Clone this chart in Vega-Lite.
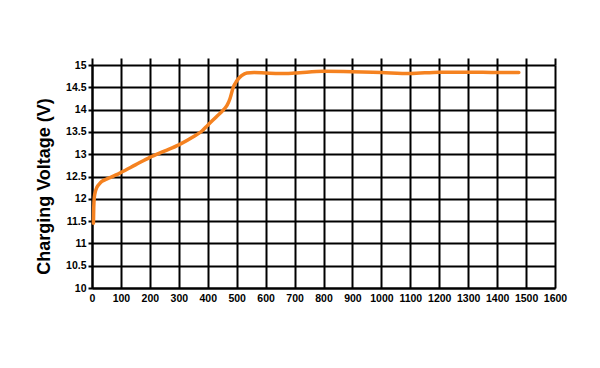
{
  "$schema": "https://vega.github.io/schema/vega-lite/v6.json",
  "autosize": "none",
  "width": 463,
  "height": 223,
  "padding": {"left": 92, "top": 65, "right": 45, "bottom": 80},
  "background": "white",
  "config": {
    "view": {"stroke": null},
    "font": "Liberation Sans"
  },
  "data": {
    "values": [
      {"t": 5, "v": 11.45}, {"t": 6, "v": 11.8}, {"t": 8, "v": 12.03}, {"t": 12, "v": 12.17},
      {"t": 17, "v": 12.26}, {"t": 25, "v": 12.33}, {"t": 34, "v": 12.39}, {"t": 50, "v": 12.44},
      {"t": 68, "v": 12.49}, {"t": 100, "v": 12.59}, {"t": 150, "v": 12.76}, {"t": 200, "v": 12.93},
      {"t": 250, "v": 13.07}, {"t": 300, "v": 13.21}, {"t": 350, "v": 13.39}, {"t": 380, "v": 13.52},
      {"t": 400, "v": 13.65}, {"t": 430, "v": 13.84}, {"t": 455, "v": 14.0}, {"t": 467, "v": 14.1},
      {"t": 477, "v": 14.25}, {"t": 488, "v": 14.5}, {"t": 500, "v": 14.64}, {"t": 517, "v": 14.76},
      {"t": 535, "v": 14.82}, {"t": 560, "v": 14.83}, {"t": 600, "v": 14.82}, {"t": 650, "v": 14.81},
      {"t": 700, "v": 14.82}, {"t": 800, "v": 14.86}, {"t": 900, "v": 14.85}, {"t": 1000, "v": 14.83},
      {"t": 1100, "v": 14.81}, {"t": 1200, "v": 14.84}, {"t": 1300, "v": 14.84}, {"t": 1400, "v": 14.83},
      {"t": 1475, "v": 14.83}
    ]
  },
  "resolve": {"axis": {"x": "independent"}},
  "encoding": {
    "y": {
      "field": "v", "type": "quantitative",
      "scale": {"domain": [10, 15], "nice": false, "zero": false},
      "axis": {
        "title": "Charging Voltage (V)",
        "titleFont": "Liberation Sans", "titleFontSize": 18, "titleFontWeight": "bold", "titleColor": "black",
        "titlePadding": 12,
        "titleY": 121,
        "values": [10,10.5,11,11.5,12,12.5,13,13.5,14,14.5,15],
        "format": "~g",
        "grid": true, "gridColor": "black", "gridWidth": 2, "gridOpacity": 1,
        "domain": true, "domainColor": "black", "domainWidth": 2,
        "ticks": true, "tickSize": 4, "tickColor": "black", "tickWidth": 2,
        "labelPadding": 2,
        "labelFont": "Liberation Sans", "labelFontSize": 10.5, "labelFontWeight": "bold", "labelColor": "black",
        "labelFlush": false, "labelOverlap": false
      }
    }
  },
  "layer": [
    {
      "mark": {"type": "line", "opacity": 0},
      "encoding": {
        "x": {
          "field": "t", "type": "quantitative",
          "scale": {"domain": [0, 1600], "nice": false, "zero": false},
          "axis": {
            "orient": "top", "title": null,
            "values": [0,100,200,300,400,500,600,700,800,900,1000,1100,1200,1300,1400,1500,1600],
            "grid": false, "domain": false, "labels": false,
            "ticks": true, "tickSize": 7, "tickColor": "black", "tickWidth": 2
          }
        }
      }
    },
    {
      "mark": {"type": "line", "color": "#f58220", "strokeWidth": 3.5, "interpolate": "monotone", "strokeCap": "round"},
      "encoding": {
        "x": {
          "field": "t", "type": "quantitative",
          "scale": {"domain": [0, 1600], "nice": false, "zero": false},
          "axis": {
            "orient": "bottom", "title": null,
            "values": [0,100,200,300,400,500,600,700,800,900,1000,1100,1200,1300,1400,1500,1600],
            "format": "d",
            "grid": true, "gridColor": "black", "gridWidth": 2, "gridOpacity": 1,
            "domain": true, "domainColor": "black", "domainWidth": 2,
            "ticks": false, "labelPadding": 5,
            "labelFont": "Liberation Sans", "labelFontSize": 10.5, "labelFontWeight": "bold", "labelColor": "black",
            "labelFlush": false, "labelOverlap": false
          }
        }
      }
    }
  ]
}
